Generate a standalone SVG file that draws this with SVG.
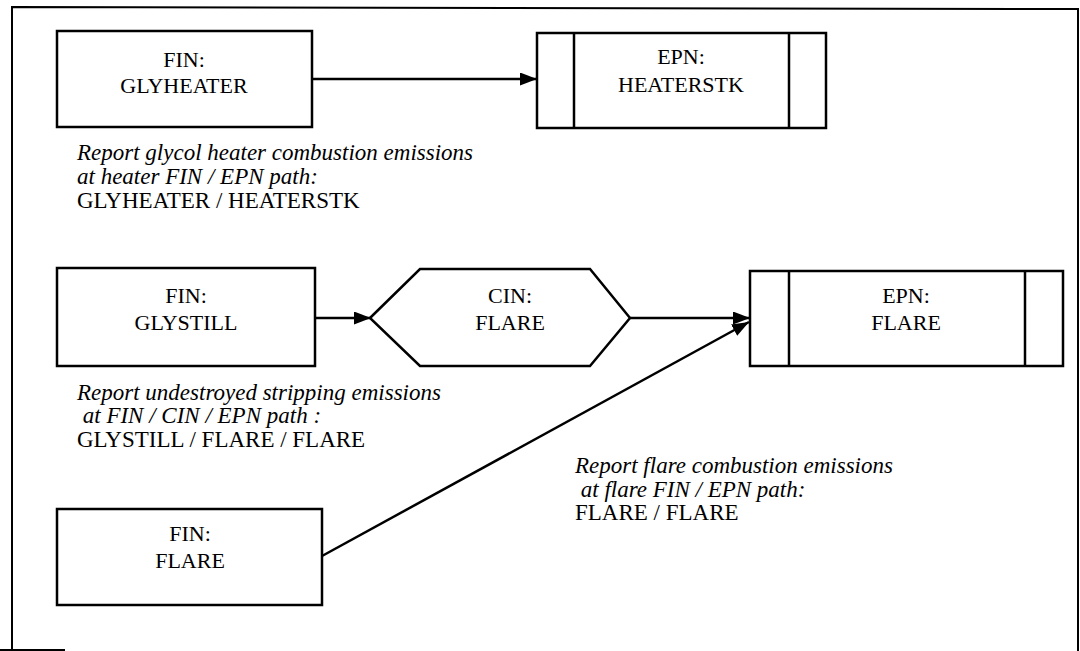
<svg xmlns="http://www.w3.org/2000/svg" width="1080" height="651" viewBox="0 0 1080 651">
<defs>
<marker id="ah" markerWidth="17" markerHeight="13" refX="17" refY="6.5" orient="auto" markerUnits="userSpaceOnUse" viewBox="0 0 17 13">
<path d="M0,0 L17,6.5 L0,13 Z" fill="#000"/>
</marker>
<style>
.box{fill:#fff;stroke:#000;stroke-width:2.5}
.t{font-family:"Liberation Serif","Times New Roman",serif;font-size:22px;fill:#000;text-anchor:middle}
.n{font-family:"Liberation Serif","Times New Roman",serif;font-size:23px;fill:#000}
.i{font-style:italic}
.c{fill:none;stroke:#000;stroke-width:2.5;marker-end:url(#ah)}
.d{stroke:#000;stroke-width:2.5}
</style>
</defs>
<rect width="1080" height="651" fill="#fff"/>
<g id="frame" fill="none" stroke="#000" stroke-width="2">
<path d="M12,651 L12,7 L1078,9 L1078,651"/>
<path d="M0,650 L65,650"/>
</g>
<g id="connectors">
<line class="c" x1="312" y1="79" x2="537" y2="79"/>
<line class="c" x1="315" y1="318" x2="371" y2="318"/>
<line class="c" x1="630" y1="318" x2="750" y2="318"/>
<line class="c" x1="322" y1="556" x2="749" y2="322"/>
</g>
<g id="fin-glyheater">
<rect class="box" x="57" y="31" width="255" height="96"/>
<text class="t" x="184" y="67">FIN:</text>
<text class="t" x="184" y="93">GLYHEATER</text>
</g>
<g id="epn-heaterstk">
<rect class="box" x="537" y="33" width="289" height="95"/>
<line class="d" x1="574" y1="33" x2="574" y2="128"/>
<line class="d" x1="789" y1="33" x2="789" y2="128"/>
<text class="t" x="681" y="64">EPN:</text>
<text class="t" x="681" y="92">HEATERSTK</text>
</g>
<g id="note-heater">
<text class="n i" x="77" y="160">Report glycol heater combustion emissions</text>
<text class="n i" x="77" y="184">at heater FIN / EPN path:</text>
<text class="n" x="77" y="208">GLYHEATER / HEATERSTK</text>
</g>
<g id="fin-glystill">
<rect class="box" x="57" y="268" width="258" height="98"/>
<text class="t" x="186" y="303">FIN:</text>
<text class="t" x="186" y="330">GLYSTILL</text>
</g>
<g id="cin-flare">
<polygon class="box" points="370,318 420,269 590,269 630,318 590,366 420,366"/>
<text class="t" x="510" y="303">CIN:</text>
<text class="t" x="510" y="330">FLARE</text>
</g>
<g id="epn-flare">
<rect class="box" x="750" y="271" width="313" height="95"/>
<line class="d" x1="789" y1="271" x2="789" y2="366"/>
<line class="d" x1="1025" y1="271" x2="1025" y2="366"/>
<text class="t" x="906" y="303">EPN:</text>
<text class="t" x="906" y="330">FLARE</text>
</g>
<g id="note-glystill">
<text class="n i" x="77" y="400">Report undestroyed stripping emissions</text>
<text class="n i" x="77" y="423" xml:space="preserve"> at FIN / CIN / EPN path :</text>
<text class="n" x="77" y="447">GLYSTILL / FLARE / FLARE</text>
</g>
<g id="fin-flare">
<rect class="box" x="57" y="509" width="265" height="96"/>
<text class="t" x="190" y="541">FIN:</text>
<text class="t" x="190" y="568">FLARE</text>
</g>
<g id="note-flare">
<text class="n i" x="575" y="473">Report flare combustion emissions</text>
<text class="n i" x="575" y="497" xml:space="preserve"> at flare FIN / EPN path:</text>
<text class="n" x="575" y="520">FLARE / FLARE</text>
</g>
</svg>
